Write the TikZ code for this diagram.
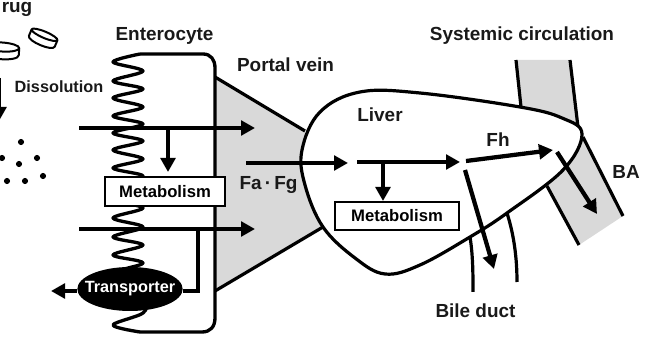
\documentclass[tikz,border=0pt]{standalone}
\usepackage{fontspec}
\setmainfont{Liberation Sans}
\usetikzlibrary{arrows.meta,shapes.geometric}
\definecolor{vessel}{gray}{0.85}
\tikzset{
  x=0.75pt,y=-0.75pt,
  flow/.style={line width=3.2pt,-{Triangle[length=10.5pt,width=11pt]}},
  feed/.style={line width=3.2pt},
  wall/.style={line width=2.4pt,line join=round},
  label/.style={font=\bfseries\fontsize{14.2}{16}\selectfont,inner sep=0pt,text=black!90},
  smalllabel/.style={font=\bfseries\fontsize{12.2}{14}\selectfont,inner sep=0pt,text=black!90},
  enzyme/.style={draw=black,fill=white,line width=1.5pt,inner sep=0pt,font=\bfseries\fontsize{12.5}{14}\selectfont},
  granule/.style={circle,fill=black,inner sep=0pt,minimum size=4.6pt},
  tablet/.style={line width=1.5pt,fill=white,line join=round}
}
\begin{document}
\begin{tikzpicture}
\useasboundingbox (0,0) rectangle (647,349);
\clip (0,0) rectangle (647,349);

% blood vessels
\fill[vessel] (215,77) -- (305,131) -- (310,157) -- (323,227) -- (215,291) -- cycle;
\fill[vessel] (516,60) -- (570,60) -- (579,128) -- (521,112) -- cycle;
\fill[vessel] (583,137) -- (623,216) -- (579,245) -- (547,186) -- (560,165) -- cycle;
\draw[wall] (215,77) -- (305,131);
\draw[wall] (323,227) -- (215,291);
\draw[wall] (516,60) -- (521,107);
\draw[wall] (570,60) -- (578,127);
\draw[wall] (583,137) -- (623,216);
\draw[wall] (547,186) -- (579,245);

% liver and bile duct
\draw[wall,fill=white] plot[smooth cycle,tension=0.62] coordinates {
  (360,92) (420,93) (520,107) (562,118) (582,134) (563,170) (507,213)
  (470,237) (420,265) (385,274) (355,258) (323,227) (305,185) (302,150) (320,112)};
\draw[wall] (470,237) .. controls (473,255) and (473,275) .. (473,292);
\draw[wall] (507,213) .. controls (514,235) and (517,258) .. (517,282);

% enterocyte with its folded brush border
\draw[wall,line width=2.5pt] (140,54) -- (203,54) .. controls (211,54) and (215,60) .. (215,68)
  -- (215,318) .. controls (215,327) and (210,332) .. (202,332) -- (140,332);
\draw[wall,line width=2.5pt] plot[smooth,tension=0.55] coordinates {
  (140,54) (113,62) (143,71) (113,81) (143,89) (113,98) (143,107) (113,116) (143,124)
  (113,133) (143,141) (113,150) (143,159) (113,168) (143,176) (113,185) (143,193)
  (113,200) (143,208) (113,218) (143,227) (113,237) (143,245) (113,255) (143,263)
  (113,275) (143,300) (143,313) (113,325) (140,332)};

% tablets and dissolved particles
\begin{scope}[shift={(43,38.5)},rotate=-23]
  \draw[tablet] (-14,-4) -- (-14,3) .. controls (-14,8.5) and (14,8.5) .. (14,3) -- (14,-4);
  \draw[tablet] (0,-4) ellipse [x radius=14,y radius=3.2];
\end{scope}
\begin{scope}[shift={(2,51)},rotate=-4]
  \draw[tablet] (-17,-4) -- (-17,3) .. controls (-17,10) and (17,10) .. (17,3) -- (17,-4);
  \draw[tablet] (0,-4) ellipse [x radius=17,y radius=4.5];
\end{scope}
\node[granule] (g1) at (21,142) {};
\node[granule] (g2) at (37,158) {};
\node[granule] (g3) at (2,158) {};
\node[granule] (g4) at (19,164) {};
\node[granule] (g5) at (43,176) {};
\node[granule] (g6) at (7,181) {};
\node[granule] (g7) at (25,181) {};

% boxes and carrier
\node[enzyme,minimum width=90pt,minimum height=21.5pt] (met1) at (165,191.5) {Metabolism};
\node[enzyme,minimum width=93pt,minimum height=21pt] (met2) at (397,216) {Metabolism};
\node[ellipse,fill=black,text=white,minimum width=79pt,minimum height=33pt,inner sep=0pt,
      font=\bfseries\fontsize{12.2}{14}\selectfont] (carrier) at (130,289) {\makebox[0pt]{Transporter}};

% anchor points of the flow arrows
\coordinate (drugTop) at (-1,78);
\coordinate (drugEnd) at (-1,121);
\coordinate (upperIn) at (79,128);
\coordinate (upperOut) at (255,128);
\coordinate (upperBranch) at (168,128);
\coordinate (lowerIn) at (79,229);
\coordinate (lowerOut) at (255,229);
\coordinate (effluxTurn) at (198,229);
\coordinate (effluxElbow) at (198,291);
\coordinate (effluxEnd) at (51,291);
\coordinate (portalIn) at (246,163);
\coordinate (portalOut) at (348,163);
\coordinate (liverIn) at (357,162);
\coordinate (liverOut) at (460,162);
\coordinate (liverBranch) at (383,162);
\coordinate (fhIn) at (466,161);
\coordinate (fhOut) at (553,150);
\coordinate (bileIn) at (465,170);
\coordinate (bileOut) at (494,269);
\coordinate (baIn) at (557,152);
\coordinate (baOut) at (597,214);

% flow arrows
\draw[flow] (drugTop) -- (drugEnd);
\draw[flow] (upperIn) -- (upperOut);
\draw[flow] (upperBranch) -- (168,172);
\draw[flow] (lowerIn) -- (lowerOut);
\draw[feed,line join=miter] (effluxTurn) -- (effluxElbow) -- (carrier.east |- effluxElbow);
\draw[flow] (carrier.west |- effluxEnd) -- (effluxEnd);
\draw[flow] (portalIn) -- (portalOut);
\draw[flow] (liverIn) -- (liverOut);
\draw[flow] (liverBranch) -- (met2.north -| liverBranch);
\draw[flow] (fhIn) -- (fhOut);
\draw[flow] (bileIn) -- (bileOut);
\draw[flow] (baIn) -- (baOut);

% labels
\node[label,anchor=base west] (drug) at (1.5,12.5) {rug};
\node[label] (entero) at (164.5,36) {Enterocyte};
\node[smalllabel] (diss) at (59,87) {Dissolution};
\node[label] (portal) at (285.5,65) {Portal vein};
\node[label] (liver) at (380,115) {Liver};
\node[label] (fafg) at (268.5,185) {Fa\,·\,Fg};
\node[label] (syst) at (522,36) {Systemic circulation};
\node[label] (fh) at (498,140) {Fh};
\node[label] (ba) at (626,172) {BA};
\node[label] (bile) at (475.5,311) {Bile duct};
\end{tikzpicture}
\end{document}
